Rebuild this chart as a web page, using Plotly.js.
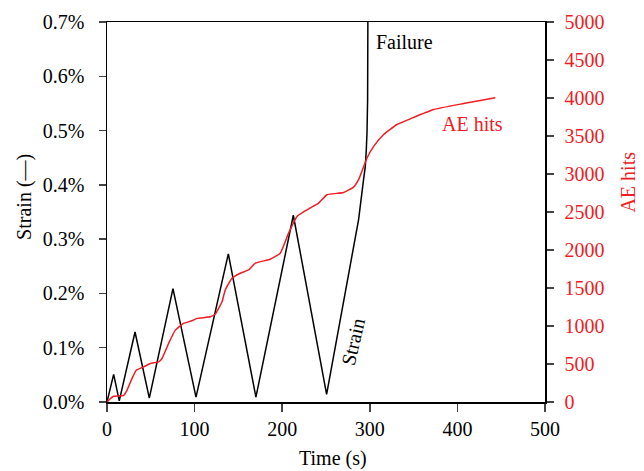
<!DOCTYPE html>
<html>
<head>
<meta charset="utf-8">
<script src="https://cdn.plot.ly/plotly-3.0.1.min.js"></script>
<style>html,body{margin:0;padding:0;background:#fff;}#chart{width:644px;height:471px;}</style>
</head>
<body>
<div id="chart"></div>
<script>
// Strain (%) vs time (s)
const strainTime = [0, 7.6, 14, 32, 48.3, 75.3, 101.6, 138.5, 170, 212.7, 250.7, 287.2, 292.9, 294.9, 296, 296.8, 297.5, 297.8];
const strainVal  = [0, 0.051, 0.002, 0.129, 0.007, 0.209, 0.009, 0.273, 0.009, 0.344, 0.014, 0.336, 0.41, 0.434, 0.465, 0.496, 0.557, 0.7];

// Cumulative AE hits vs time (s)
const aeTime = [0, 3.8, 7.6, 19, 22.8, 28.5, 33.4, 41.8, 49.4, 58.9, 62.8, 70.3, 78, 87.4, 97, 102.7, 117.9, 123.6, 131.3, 135, 142.7, 152.2, 161.6, 169.3, 186.4, 197.8, 207.3, 216.9, 228.3, 241.6, 251.1, 270, 281.5, 287.2, 296.8, 304.4, 315.8, 331, 346.2, 372.8, 407, 443.3];
const aeHits = [0, 44, 75, 88, 154, 308, 418, 462, 506, 528, 572, 770, 946, 1034, 1069, 1100, 1121, 1157, 1319, 1474, 1628, 1694, 1737, 1826, 1879, 1958, 2222, 2441, 2529, 2617, 2727, 2757, 2828, 2925, 3211, 3364, 3519, 3651, 3726, 3848, 3927, 4003];

const xTicks = [0, 100, 200, 300, 400, 500];
const yTicks = [0, 0.1, 0.2, 0.3, 0.4, 0.5, 0.6, 0.7];
const yTickText = ['0.0%', '0.1%', '0.2%', '0.3%', '0.4%', '0.5%', '0.6%', '0.7%'];
const y2Ticks = [0, 500, 1000, 1500, 2000, 2500, 3000, 3500, 4000, 4500, 5000];

const RED = '#ee1c25';
const FONT = 'Liberation Serif, Times New Roman, serif';
const FS = 20;

const traces = [
  {x: strainTime, y: strainVal, type: 'scatter', mode: 'lines', name: 'Strain',
   line: {color: '#000', width: 1.5}, yaxis: 'y', hoverinfo: 'skip'},
  {x: aeTime, y: aeHits, type: 'scatter', mode: 'lines', name: 'AE hits',
   line: {color: RED, width: 1.5, shape: 'spline', smoothing: 0.4}, yaxis: 'y2', hoverinfo: 'skip'}
];

const layout = {
  width: 644, height: 471,
  margin: {l: 107, r: 99, t: 22, b: 69, pad: 0},
  paper_bgcolor: '#fff', plot_bgcolor: '#fff',
  showlegend: false,
  font: {family: FONT, size: FS, color: '#000'},
  xaxis: {
    range: [0, 500], tickvals: xTicks, ticks: 'outside', ticklen: 8, tickwidth: 1.5,
    showline: true, linewidth: 1.5, linecolor: '#000', mirror: true,
    showgrid: false, zeroline: false, tickfont: {family: FONT, size: FS, color: '#000'}
  },
  yaxis: {
    range: [0, 0.7], tickvals: yTicks, ticktext: yTickText,
    ticks: 'outside', ticklen: 7, tickwidth: 1.5, ticklabelstandoff: 10,
    showline: true, linewidth: 1.5, linecolor: '#000',
    showgrid: false, zeroline: false, tickfont: {family: FONT, size: FS, color: '#000'}
  },
  yaxis2: {
    range: [0, 5000], tickvals: y2Ticks, overlaying: 'y', side: 'right',
    ticks: 'outside', ticklen: 7, tickwidth: 1.5, ticklabelstandoff: 7,
    showline: true, linewidth: 1.5, linecolor: '#000',
    showgrid: false, zeroline: false, tickfont: {family: FONT, size: FS, color: RED}
  },
  annotations: [
    {text: 'Time (s)', xref: 'paper', yref: 'paper', x: 0.515, y: -0.15, xanchor: 'center', yanchor: 'middle', showarrow: false, font: {family: FONT, size: FS, color: '#000'}},
    {text: 'Strain (—)', xref: 'paper', yref: 'paper', x: -0.187, y: 0.54, xanchor: 'center', yanchor: 'middle', textangle: -90, showarrow: false, font: {family: FONT, size: FS, color: '#000'}},
    {text: 'AE hits', xref: 'paper', yref: 'paper', x: 1.19, y: 0.578, xanchor: 'center', yanchor: 'middle', textangle: -90, showarrow: false, font: {family: FONT, size: FS, color: RED}},
    {text: 'Failure', xref: 'x', yref: 'y', x: 305, y: 0.664, xanchor: 'left', yanchor: 'middle', showarrow: false, font: {family: FONT, size: FS, color: '#000'}},
    {text: 'AE hits', xref: 'x', yref: 'y', x: 380.5, y: 0.513, xanchor: 'left', yanchor: 'middle', showarrow: false, font: {family: FONT, size: FS, color: RED}},
    {text: 'Strain', xref: 'x', yref: 'y', x: 280.5, y: 0.111, xanchor: 'center', yanchor: 'middle', textangle: -77, showarrow: false, font: {family: FONT, size: FS, color: '#000'}}
  ]
};

Plotly.newPlot('chart', traces, layout, {displayModeBar: false, staticPlot: true});
</script>
</body>
</html>
